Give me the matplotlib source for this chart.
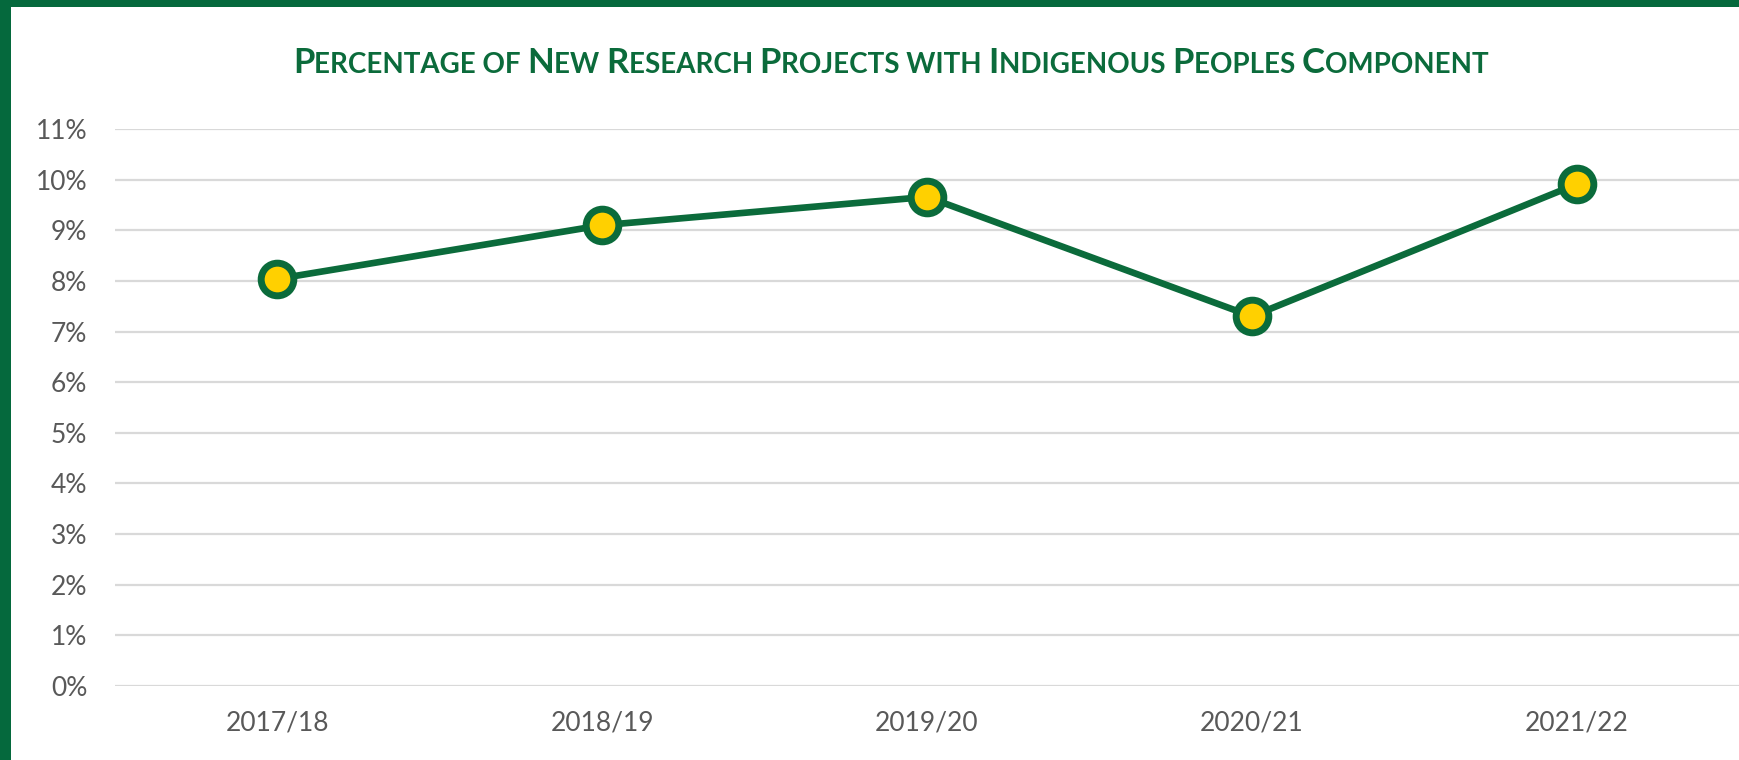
import numpy as np
import matplotlib
matplotlib.use("Agg")
import matplotlib.pyplot as plt
from matplotlib.patches import Rectangle
from matplotlib.ticker import FuncFormatter, MultipleLocator

plt.rcParams["font.family"] = ["Lato", "DejaVu Sans"]

# data
years = ["2017/18", "2018/19", "2019/20", "2020/21", "2021/22"]
pct_values = [8.04, 9.10, 9.66, 7.30, 9.91]
title_text = "Percentage of New Research Projects with Indigenous Peoples Component"

GREEN = "#0b6b3b"
YELLOW = "#ffd000"
GRID = "#d9d9d9"
LABEL = "#595959"

W, H = 1739, 760
fig = plt.figure(figsize=(W / 100, H / 100), dpi=100)
fig.patch.set_facecolor("#05693d")
# white card, green edge only shows top and left
fig.patches.append(
    Rectangle((11 / W, 0), 1, (H - 7) / H, transform=fig.transFigure,
              facecolor="white", edgecolor="none", zorder=-1)
)

ax_left, ax_right = 115, 1739
ax_top, ax_bottom = 129, 686
ax = fig.add_axes([ax_left / W, (H - ax_bottom) / H,
                   (ax_right - ax_left) / W, (ax_bottom - ax_top) / H])
ax.set_facecolor("none")

x = np.arange(len(years))
ax.plot(x, pct_values, color=GREEN, linewidth=4.8, marker="o",
        markersize=23.5, markerfacecolor=YELLOW, markeredgecolor=GREEN,
        markeredgewidth=5, clip_on=False, zorder=3)

ax.set_xlim(-0.5, len(years) - 0.5)
ax.set_ylim(0, 11)
ax.yaxis.set_major_locator(MultipleLocator(1))
ax.yaxis.set_major_formatter(FuncFormatter(lambda v, p: f"{v:.0f}%"))
ax.set_xticks(x)
ax.set_xticklabels(years)
ax.grid(axis="y", color=GRID, linewidth=1.6)
ax.set_axisbelow(True)
for s in ax.spines.values():
    s.set_visible(False)
ax.tick_params(axis="both", length=0, labelsize=19, labelcolor=LABEL)
ax.tick_params(axis="y", pad=20)
ax.tick_params(axis="x", pad=18)

# small-caps title built from chained text pieces
segments = []
for ch in title_text:
    big = ch.isupper()
    if segments and segments[-1][1] == big:
        segments[-1][0] += ch
    else:
        segments.append([ch, big])

baseline = (H - 73) / H
prev = None
for txt, big in segments:
    size = 25 if big else 20
    txt = txt.upper()
    if prev is None:
        prev = fig.text(293 / W, baseline, txt, fontsize=size, fontweight="bold",
                        color=GREEN, va="baseline", ha="left")
    else:
        prev = ax.annotate(txt, xy=(1, baseline), xycoords=(prev, "figure fraction"),
                           fontsize=size, fontweight="bold", color=GREEN,
                           va="baseline", ha="left", annotation_clip=False)

fig.savefig("out.png", dpi=100)
